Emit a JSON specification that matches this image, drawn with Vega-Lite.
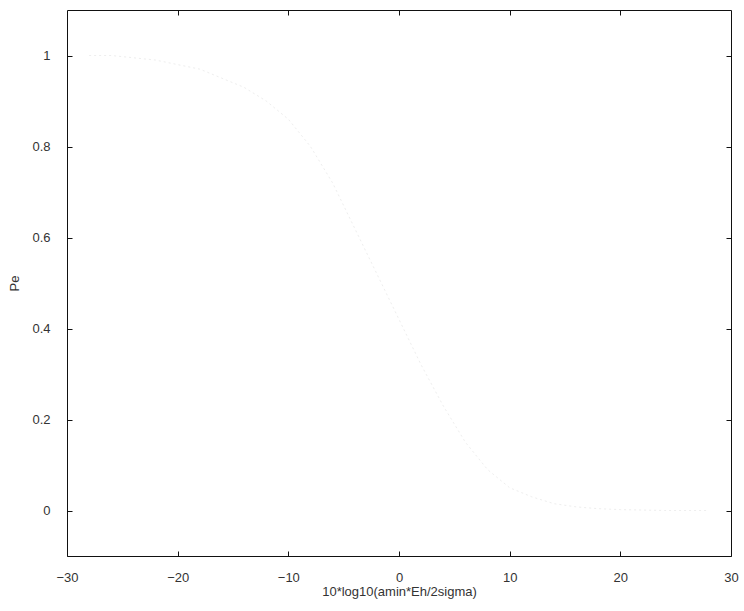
{
  "$schema": "https://vega.github.io/schema/vega-lite/v6.json",
  "autosize": "none",
  "width": 664,
  "height": 546,
  "padding": {"left": 67, "top": 10, "right": 13, "bottom": 55},
  "background": "white",
  "config": {
    "view": {"stroke": "#111", "strokeWidth": 1},
    "axis": {
      "grid": false,
      "domain": false,
      "tickColor": "#111",
      "tickSize": 5,
      "offset": -5,
      "labelFont": "Liberation Sans",
      "labelFontSize": 13,
      "labelColor": "#333",
      "titleFont": "Liberation Sans",
      "titleFontSize": 13,
      "titleFontWeight": "normal",
      "titleColor": "#333"
    }
  },
  "data": {
    "values": [
      {"snr": -28, "pe": 1.0},
      {"snr": -26, "pe": 1.0},
      {"snr": -24, "pe": 0.995},
      {"snr": -22, "pe": 0.99},
      {"snr": -20, "pe": 0.98},
      {"snr": -18, "pe": 0.97},
      {"snr": -16, "pe": 0.95},
      {"snr": -14, "pe": 0.93},
      {"snr": -12, "pe": 0.9},
      {"snr": -10, "pe": 0.86},
      {"snr": -8, "pe": 0.8},
      {"snr": -6, "pe": 0.72},
      {"snr": -4, "pe": 0.62},
      {"snr": -2, "pe": 0.52},
      {"snr": 0, "pe": 0.42},
      {"snr": 2, "pe": 0.32},
      {"snr": 4, "pe": 0.23},
      {"snr": 6, "pe": 0.15},
      {"snr": 8, "pe": 0.09},
      {"snr": 10, "pe": 0.05},
      {"snr": 12, "pe": 0.03},
      {"snr": 14, "pe": 0.015},
      {"snr": 16, "pe": 0.008},
      {"snr": 18, "pe": 0.004},
      {"snr": 20, "pe": 0.002},
      {"snr": 22, "pe": 0.001},
      {"snr": 24, "pe": 0.0},
      {"snr": 26, "pe": 0.0},
      {"snr": 28, "pe": 0.0}
    ]
  },
  "layer": [
    {
      "mark": {"type": "line", "color": "#eeeeee", "strokeWidth": 1, "strokeDash": [2, 3]},
      "encoding": {
        "x": {
          "field": "snr", "type": "quantitative",
          "scale": {"domain": [-30, 30], "nice": false, "zero": false},
          "axis": {"values": [-30, -20, -10, 0, 10, 20, 30], "format": "d", "title": "10*log10(amin*Eh/2sigma)", "labelPadding": 15, "titlePadding": 1, "labelFlush": false}
        },
        "y": {
          "field": "pe", "type": "quantitative",
          "scale": {"domain": [-0.1, 1.1], "nice": false, "zero": false},
          "axis": {"values": [0, 0.2, 0.4, 0.6, 0.8, 1], "format": "~g", "title": "Pe", "labelPadding": 17, "titlePadding": 10, "labelFlush": false}
        }
      }
    },
    {
      "mark": {"type": "point", "opacity": 0},
      "encoding": {
        "x": {
          "field": "snr", "type": "quantitative",
          "axis": {"orient": "top", "values": [-20, -10, 0, 10, 20], "labels": false, "title": null}
        },
        "y": {
          "field": "pe", "type": "quantitative",
          "axis": {"orient": "right", "values": [0, 0.2, 0.4, 0.6, 0.8, 1], "labels": false, "title": null}
        }
      }
    }
  ],
  "resolve": {"axis": {"x": "independent", "y": "independent"}}
}
